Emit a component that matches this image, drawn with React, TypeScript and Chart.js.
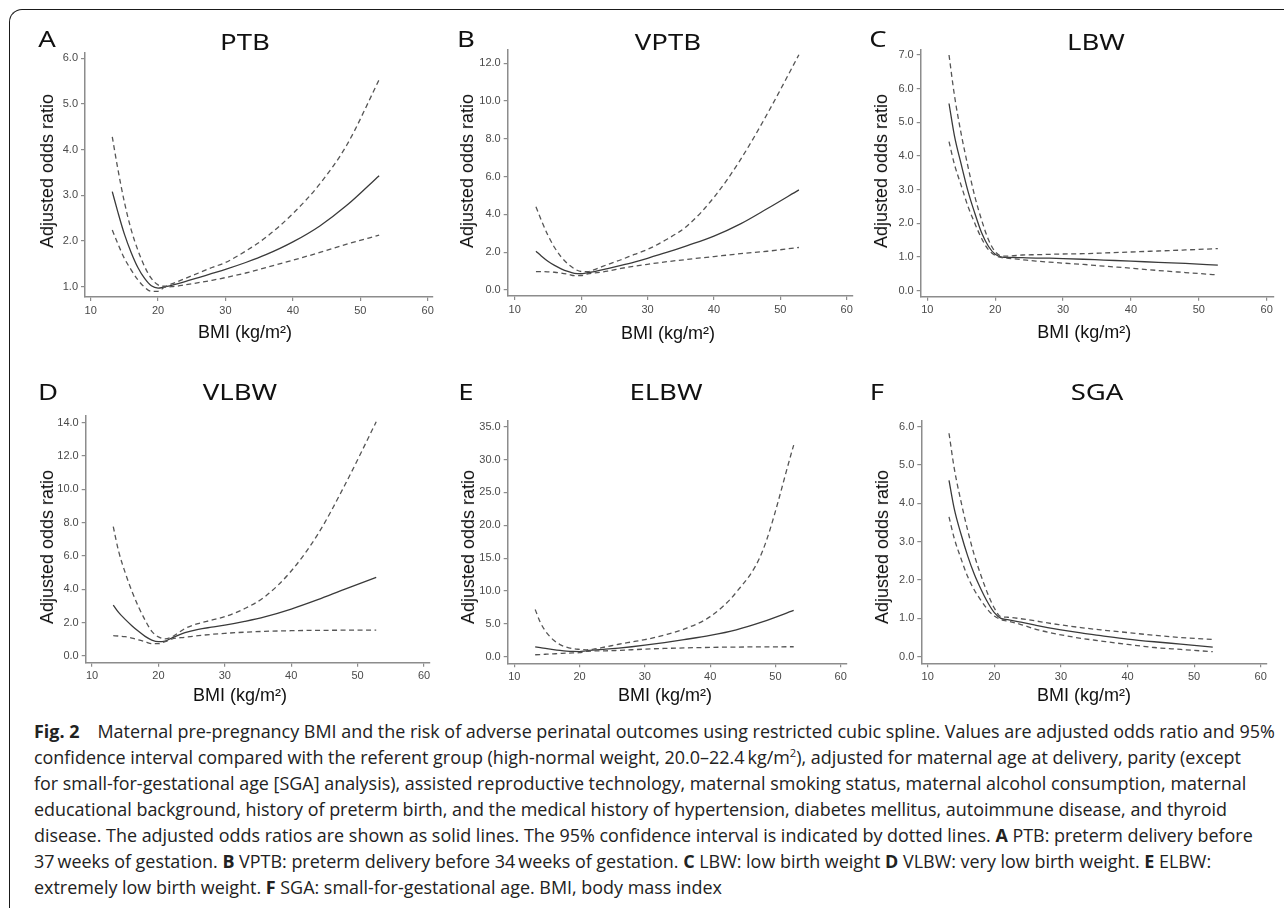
import React, { useEffect, useLayoutEffect, useRef, useState } from "react";
import { Chart, registerables } from "chart.js";
Chart.register(...registerables);

// ---------------- data ----------------
const bmi = [13.2, 14, 15, 16, 17, 18, 19, 20, 21, 22, 24, 26, 28, 30, 33, 36, 40, 44, 48, 52.8];

const ptbOR = [3.08, 2.65, 2.15, 1.75, 1.42, 1.18, 1.02, 0.97, 1.0, 1.03, 1.11, 1.2, 1.29, 1.38, 1.53, 1.7, 1.98, 2.33, 2.78, 3.43];
const ptbUpper = [4.28, 3.6, 2.85, 2.25, 1.8, 1.44, 1.18, 1.04, 1.01, 1.06, 1.18, 1.3, 1.42, 1.53, 1.78, 2.08, 2.6, 3.25, 4.1, 5.53];
const ptbLower = [2.24, 1.95, 1.62, 1.37, 1.15, 0.99, 0.9, 0.9, 0.99, 1.0, 1.04, 1.09, 1.14, 1.2, 1.3, 1.42, 1.58, 1.75, 1.93, 2.13];

const vptbOR = [2.05, 1.8, 1.52, 1.3, 1.12, 0.98, 0.88, 0.86, 0.92, 0.97, 1.13, 1.3, 1.48, 1.68, 2.0, 2.35, 2.85, 3.5, 4.3, 5.3];
const vptbUpper = [4.4, 3.7, 2.9, 2.25, 1.75, 1.38, 1.12, 0.98, 0.97, 1.08, 1.35, 1.6, 1.88, 2.15, 2.7, 3.4, 4.9, 6.9, 9.3, 12.45];
const vptbLower = [0.97, 0.97, 0.96, 0.94, 0.9, 0.84, 0.76, 0.76, 0.86, 0.9, 1.0, 1.14, 1.26, 1.36, 1.5, 1.62, 1.77, 1.92, 2.05, 2.25];

const lbwOR = [5.56, 4.6, 3.75, 2.95, 2.3, 1.72, 1.32, 1.08, 1.0, 0.99, 0.98, 0.97, 0.965, 0.955, 0.935, 0.91, 0.88, 0.84, 0.81, 0.76];
const lbwUpper = [7.0, 5.8, 4.65, 3.68, 2.8, 2.1, 1.52, 1.16, 1.03, 1.03, 1.06, 1.07, 1.08, 1.09, 1.1, 1.12, 1.15, 1.18, 1.21, 1.25];
const lbwLower = [4.43, 3.75, 3.12, 2.5, 2.0, 1.55, 1.22, 1.05, 0.98, 0.96, 0.92, 0.88, 0.85, 0.82, 0.78, 0.73, 0.67, 0.6, 0.54, 0.47];

const vlbwOR = [3.06, 2.62, 2.2, 1.82, 1.48, 1.18, 0.96, 0.86, 0.9, 1.08, 1.4, 1.6, 1.73, 1.85, 2.08, 2.35, 2.82, 3.38, 4.0, 4.72];
const vlbwUpper = [7.76, 6.3, 5.0, 3.9, 2.95, 2.15, 1.48, 1.15, 1.03, 1.14, 1.65, 1.95, 2.15, 2.36, 2.85, 3.55, 5.1, 7.3, 10.2, 14.05];
const vlbwLower = [1.22, 1.2, 1.16, 1.08, 0.97, 0.86, 0.74, 0.74, 0.86, 1.02, 1.13, 1.22, 1.3, 1.36, 1.43, 1.48, 1.52, 1.54, 1.55, 1.56];

const elbwOR = [1.5, 1.38, 1.22, 1.08, 0.96, 0.86, 0.8, 0.78, 0.9, 1.0, 1.15, 1.32, 1.52, 1.75, 2.15, 2.6, 3.25, 4.1, 5.3, 7.05];
const elbwUpper = [7.2, 5.2, 3.6, 2.55, 1.85, 1.45, 1.22, 1.12, 1.05, 1.12, 1.5, 1.9, 2.25, 2.6, 3.3, 4.2, 6.1, 9.8, 16.0, 32.2];
const elbwLower = [0.3, 0.34, 0.39, 0.44, 0.49, 0.54, 0.58, 0.62, 0.82, 0.88, 0.9, 0.97, 1.06, 1.16, 1.26, 1.34, 1.42, 1.47, 1.5, 1.52];

const sgaOR = [4.6, 3.85, 3.2, 2.63, 2.15, 1.76, 1.42, 1.15, 1.0, 0.97, 0.9, 0.83, 0.76, 0.7, 0.62, 0.55, 0.46, 0.39, 0.33, 0.25];
const sgaUpper = [5.83, 4.9, 4.05, 3.3, 2.65, 2.12, 1.65, 1.27, 1.04, 1.03, 0.99, 0.94, 0.88, 0.83, 0.76, 0.7, 0.63, 0.56, 0.5, 0.45];
const sgaLower = [3.65, 3.08, 2.56, 2.09, 1.74, 1.47, 1.23, 1.06, 0.97, 0.93, 0.84, 0.73, 0.64, 0.57, 0.48, 0.41, 0.32, 0.24, 0.19, 0.13];

const xTicks = [10, 20, 30, 40, 50, 60];
const ptbYTicks = [1, 2, 3, 4, 5, 6];
const vptbYTicks = [0, 2, 4, 6, 8, 10, 12];
const lbwYTicks = [0, 1, 2, 3, 4, 5, 6, 7];
const vlbwYTicks = [0, 2, 4, 6, 8, 10, 12, 14];
const elbwYTicks = [0, 5, 10, 15, 20, 25, 30, 35];
const sgaYTicks = [0, 1, 2, 3, 4, 5, 6];

const panelLetters = ["A", "B", "C", "D", "E", "F"];
const panelTitles = ["PTB", "VPTB", "LBW", "VLBW", "ELBW", "SGA"];
const yAxisTitle = "Adjusted odds ratio";
const xAxisTitle = "BMI (kg/m\u00B2)";

// ---------------- layout ----------------
const panels = [
  { series: [ptbOR, ptbUpper, ptbLower], yTicks: ptbYTicks, box: [85, 433, 52.7, 297], xr: [9.154, 60.79], yr: [0.775, 6.12], letter: [47.2, 37.5], title: [245, 41.3], yTitle: [46.7, 170.8], xTitle: [245, 331.7] },
  { series: [vptbOR, vptbUpper, vptbLower], yTicks: vptbYTicks, box: [507.7, 852.7, 49.3, 296], xr: [8.946, 60.9], yr: [-0.318, 12.74], letter: [466.2, 37.5], title: [668.3, 41.3], yTitle: [466.7, 170.8], xTitle: [668, 333.3] },
  { series: [lbwOR, lbwUpper, lbwLower], yTicks: lbwYTicks, box: [920.7, 1273.3, 49.3, 296.7], xr: [9.028, 60.97], yr: [-0.178, 7.17], letter: [877.7, 38], title: [1095.5, 41.3], yTitle: [880.7, 170.8], xTitle: [1084.3, 331.7] },
  { series: [vlbwOR, vlbwUpper, vlbwLower], yTicks: vlbwYTicks, box: [85.7, 430, 416, 662.7], xr: [9.05, 60.9], yr: [-0.4, 14.4], letter: [47.8, 390.5], title: [240, 391.3], yTitle: [46.7, 546.7], xTitle: [240, 695] },
  { series: [elbwOR, elbwUpper, elbwLower], yTicks: elbwYTicks, box: [507.7, 846.7, 420.7, 663.3], xr: [8.99, 60.92], yr: [-1.0, 35.91], letter: [465.8, 390.5], title: [666, 391], yTitle: [468.3, 546.7], xTitle: [665, 695] },
  { series: [sgaOR, sgaUpper, sgaLower], yTicks: sgaYTicks, box: [921.3, 1266.7, 420.7, 663.3], xr: [9.04, 60.9], yr: [-0.172, 6.157], letter: [876.7, 390.5], title: [1096.7, 391], yTitle: [881.7, 546.7], xTitle: [1084, 695] },
];

const AXIS = "#8c8c8c";
const TICK_TEXT = "#4a4a4a";
const SOLID = "#3a3a3a";
const DASH = "#555555";

function Panel({ p }: { p: any }) {
  const ref = useRef<HTMLCanvasElement>(null);
  const [l, r, t, b] = p.box;
  const cl = Math.floor(l - 42);
  const ct = Math.floor(t - 13);
  const cw = Math.ceil(r + 14) - cl;
  const ch = Math.ceil(b + 26) - ct;
  const wy = l - cl;
  const padTop = t - ct;
  const padRight = cl + cw - r;
  const hx = ct + ch - b;

  useEffect(() => {
    if (!ref.current) return;
    const [or, up, lo] = p.series;
    const mk = (arr: number[]) => bmi.map((x, i) => ({ x, y: arr[i] }));
    const font = { family: "'Liberation Sans', Arial, sans-serif", size: 11 };
    const chart = new Chart(ref.current, {
      type: "line",
      data: {
        datasets: [
          { data: mk(up), borderColor: DASH, borderWidth: 1.3, borderDash: [5, 3.5], pointRadius: 0, cubicInterpolationMode: "monotone", fill: false },
          { data: mk(lo), borderColor: DASH, borderWidth: 1.3, borderDash: [5, 3.5], pointRadius: 0, cubicInterpolationMode: "monotone", fill: false },
          { data: mk(or), borderColor: SOLID, borderWidth: 1.3, pointRadius: 0, cubicInterpolationMode: "monotone", fill: false },
        ],
      },
      options: {
        responsive: false,
        animation: false,
        events: [],
        layout: { padding: { top: padTop, right: padRight, left: 0, bottom: 0 } },
        plugins: { legend: { display: false }, tooltip: { enabled: false }, title: { display: false } },
        scales: {
          x: {
            type: "linear",
            min: p.xr[0],
            max: p.xr[1],
            afterBuildTicks: (s: any) => { s.ticks = xTicks.map((v) => ({ value: v })); },
            afterFit: (s: any) => { s.height = hx; },
            ticks: { callback: (v: any) => String(v), font, color: TICK_TEXT, padding: 3, maxRotation: 0, autoSkip: false },
            grid: { drawOnChartArea: false, drawTicks: true, tickLength: 4, color: AXIS, lineWidth: 1.2 },
            border: { display: true, color: AXIS, width: 1.5 },
          },
          y: {
            type: "linear",
            min: p.yr[0],
            max: p.yr[1],
            afterBuildTicks: (s: any) => { s.ticks = p.yTicks.map((v: number) => ({ value: v })); },
            afterFit: (s: any) => { s.width = wy; },
            ticks: { callback: (v: any) => Number(v).toFixed(1), font, color: TICK_TEXT, padding: 3, autoSkip: false },
            grid: { drawOnChartArea: false, drawTicks: true, tickLength: 4, color: AXIS, lineWidth: 1.2 },
            border: { display: true, color: AXIS, width: 1.5 },
          },
        },
      } as any,
    });
    return () => chart.destroy();
  }, []);

  return (
    <canvas
      ref={ref}
      width={cw}
      height={ch}
      style={{ position: "absolute", left: cl, top: ct, width: cw, height: ch }}
    />
  );
}

function Label({ x, y, text, size, family, sx = 1, rotate = false, weight = 400, color = "#111" }: any) {
  return (
    <div
      style={{
        position: "absolute",
        left: x,
        top: y,
        transform: `translate(-50%, -50%)${rotate ? " rotate(-90deg)" : ""} scaleX(${sx})`,
        fontFamily: family,
        fontSize: size,
        fontWeight: weight,
        lineHeight: 1,
        whiteSpace: "nowrap",
        color,
      }}
    >
      {text}
    </div>
  );
}

const sup = (s: string) => <sup style={{ fontSize: "0.62em", verticalAlign: "0.6em", lineHeight: 0 }}>{s}</sup>;

const captionLines = [
  <><b>Fig. 2</b>{"\u2002\u2002"}Maternal pre-pregnancy BMI and the risk of adverse perinatal outcomes using restricted cubic spline. Values are adjusted odds ratio and 95%</>,
  <>confidence interval compared with the referent group (high-normal weight, 20.0–22.4{"\u2009"}kg/m{sup("2")}), adjusted for maternal age at delivery, parity (except</>,
  <>for small-for-gestational age [SGA] analysis), assisted reproductive technology, maternal smoking status, maternal alcohol consumption, maternal</>,
  <>educational background, history of preterm birth, and the medical history of hypertension, diabetes mellitus, autoimmune disease, and thyroid</>,
  <>disease. The adjusted odds ratios are shown as solid lines. The 95% confidence interval is indicated by dotted lines. <b>A</b> PTB: preterm delivery before</>,
  <>37{"\u2009"}weeks of gestation. <b>B</b> VPTB: preterm delivery before 34{"\u2009"}weeks of gestation. <b>C</b> LBW: low birth weight <b>D</b> VLBW: very low birth weight. <b>E</b> ELBW:</>,
  <>extremely low birth weight. <b>F</b> SGA: small-for-gestational age. BMI, body mass index</>,
];

const CAP_LEFT = 34;
const CAP_RIGHT = 1275;
const CAP_TOP = 731;
const CAP_STEP = 26;

function Caption() {
  const firstRef = useRef<HTMLSpanElement>(null);
  const [k, setK] = useState(1);
  useLayoutEffect(() => {
    const measure = () => {
      const el = firstRef.current;
      if (el && el.offsetWidth > 0) setK((CAP_RIGHT - CAP_LEFT) / el.offsetWidth);
    };
    measure();
    if ((document as any).fonts && (document as any).fonts.ready) (document as any).fonts.ready.then(measure);
  }, []);
  return (
    <>
      {captionLines.map((line, i) => (
        <div
          key={i}
          style={{
            position: "absolute",
            left: CAP_LEFT,
            top: CAP_TOP + i * CAP_STEP - 12,
            height: 24,
            lineHeight: "24px",
            whiteSpace: "nowrap",
            fontFamily: "'Open Sans', 'Noto Sans', sans-serif",
            fontSize: 18,
            color: "#222",
          }}
        >
          <span
            ref={i === 0 ? firstRef : undefined}
            style={{ display: "inline-block", transform: `scaleX(${k})`, transformOrigin: "left center" }}
          >
            {line}
          </span>
        </div>
      ))}
    </>
  );
}

export default function App() {
  return (
    <div style={{ position: "absolute", left: 0, top: 0, width: 1284, height: 908, overflow: "hidden", background: "#fff" }}>
      <div
        style={{
          position: "absolute",
          left: 9,
          top: 9,
          width: 1290,
          height: 910,
          borderTop: "1.4px solid #1a1a1a",
          borderLeft: "1.4px solid #1a1a1a",
          borderTopLeftRadius: 13,
        }}
      />
      {panels.map((p, i) => (
        <React.Fragment key={i}>
          <Panel p={p} />
          <Label x={p.letter[0]} y={p.letter[1]} text={panelLetters[i]} size={22} family="'Noto Sans', sans-serif" sx={1.25} />
          <Label x={p.title[0]} y={p.title[1]} text={panelTitles[i]} size={22} family="'Noto Sans', sans-serif" sx={1.25} />
          <Label x={p.yTitle[0]} y={p.yTitle[1]} text={yAxisTitle} size={18} family="'Liberation Sans', Arial, sans-serif" rotate />
          <Label x={p.xTitle[0]} y={p.xTitle[1]} text={xAxisTitle} size={18} family="'Liberation Sans', Arial, sans-serif" />
        </React.Fragment>
      ))}
      <Caption />
    </div>
  );
}
